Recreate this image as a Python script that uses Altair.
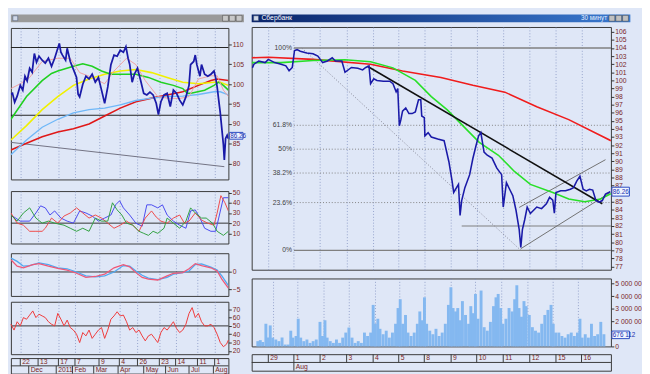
import altair as alt
import pandas as pd

# ======================= DATA =======================
# ---- left window (daily bars), x = bar position ----
left_price = [(0,97.5),(5,97.7),(12,95.5),(20,97.0),(30,99.7),(38,98.5),(45,102.0),(52,100.8),(60,104.0),(68,103.0),
              (75,107.7),(82,105.5),(90,107.0),(100,106.0),(110,105.3),(120,106.5),(130,104.5),(140,106.5),(150,109.0),
              (155,110.2),(160,108.0),(165,107.3),(175,106.0),(180,109.0),(190,105.7),(200,103.7),(210,101.7),(215,97.5),
              (220,96.8),(230,100.0),(240,102.0),(250,101.3),(260,102.5),(270,100.5),(280,101.7),(290,98.5),(300,95.2),
              (310,99.3),(320,104.9),(330,107.3),(340,107.0),(350,108.5),(360,108.0),(368,109.4),(375,106.5),(380,105.0),
              (388,100.5),(395,102.5),(405,104.0),(415,101.0),(425,97.7),(435,97.3),(445,98.0),(455,97.3),(465,95.2),
              (472,92.4),(480,95.6),(490,97.3),(500,97.7),(510,94.4),(520,98.5),(530,97.7),(540,96.0),(550,94.8),
              (560,96.8),(570,99.7),(575,104.9),(585,105.7),(590,107.3),(595,104.9),(605,102.0),(610,104.9),(620,102.5),
              (630,102.0),(640,102.5),(650,103.3),(655,101.7),(660,99.3),(665,96.0),(670,92.8),(675,88.8),(680,84.8),
              (683,81.0),(687,86.4),(692,87.2),(696,86.3)]
left_ma_green = [(0,91.2),(50,96.9),(100,100.9),(130,102.7),(150,103.3),(200,104.5),(230,105.1),(260,104.5),(290,103.3),
                 (320,102.5),(360,102.5),(400,102.5),(440,101.7),(480,100.5),(520,99.7),(550,98.9),(565,97.7),(580,97.8),
                 (620,98.5),(650,99.7),(665,100.5),(680,99.7),(696,98.5)]
left_ma_yellow = [(0,86.0),(50,89.6),(100,93.6),(150,96.9),(200,99.7),(250,101.3),(300,102.5),(350,103.3),(400,103.7),
                  (450,102.9),(500,101.7),(550,100.5),(600,100.1),(650,100.5),(670,100.5),(696,99.7)]
left_ma_lblue = [(0,82.3),(50,86.0),(100,89.2),(150,91.2),(200,92.8),(250,93.6),(300,94.0),(350,94.8),(400,95.9),
                 (450,96.5),(500,96.9),(550,97.0),(600,97.4),(650,98.1),(670,98.1),(696,97.3)]
left_ma_red = [(0,83.5),(50,85.2),(100,86.8),(150,88.0),(200,88.8),(250,90.0),(300,92.0),(350,94.0),(400,95.6),
               (450,96.5),(500,97.3),(550,98.1),(600,99.7),(640,100.9),(660,101.3),(696,100.9)]
left_ma_pink = [(0,98.9),(30,100.1),(60,101.7),(100,105.7),(150,106.5),(190,106.5),(220,102.9),(260,101.7),(300,100.1),
                (330,103.3),(370,106.5),(400,104.9),(430,100.9),(470,96.9),(500,96.5),(540,96.4),(570,96.9),(600,101.3),
                (640,102.1),(660,102.1),(680,98.5),(696,96.9)]
left_levels = [109.2, 92.2]
left_diag = [(0,85.4),(683,79.3)]
last_price = 86.26

osc_blue = [(0,28),(30,22),(60,22),(80,30),(95,37),(110,35),(125,28),(140,32),(160,25),(180,22),(200,20),(220,32),
            (240,30),(260,27),(280,22),(300,25),(320,28),(335,38),(348,42),(360,35),(380,28),(400,20),(420,17),(435,38),
            (450,38),(470,35),(485,38),(500,28),(520,22),(540,18),(560,15),(575,32),(590,33),(605,25),(620,15),(640,12),
            (655,12),(665,25),(680,45),(696,45)]
osc_red = [(0,30),(20,20),(40,18),(60,12),(80,12),(100,12),(110,15),(130,25),(150,20),(170,27),(190,30),(210,35),
           (230,30),(250,25),(270,28),(290,25),(310,20),(330,15),(350,18),(370,22),(390,18),(410,12),(430,25),(450,32),
           (465,26),(480,22),(500,20),(520,25),(540,28),(555,20),(570,22),(590,30),(610,23),(630,20),(650,18),(660,30),
           (672,47),(685,40),(696,32)]
osc_green = [(0,28),(20,22),(40,30),(60,35),(80,25),(100,20),(120,22),(140,20),(170,18),(190,15),(210,12),(230,15),
             (250,12),(270,25),(290,22),(310,22),(325,40),(340,33),(355,28),(370,20),(390,18),(410,12),(425,10),(440,8),
             (455,12),(470,10),(490,15),(500,25),(520,20),(540,15),(560,22),(575,35),(590,30),(610,25),(625,25),(645,20),
             (660,12),(680,8),(696,12)]
macd_blue = [(0,4.0),(20,3.05),(40,1.67),(60,1.85),(90,2.6),(120,2.13),(150,1.2),(180,0.93),(210,0.0),(240,-1.1),
             (270,-1.39),(300,-1.1),(330,0.0),(360,1.85),(380,1.67),(400,0.28),(420,-0.93),(440,-1.76),(470,-2.22),
             (500,-1.57),(520,-0.65),(550,-0.19),(570,0.28),(590,2.13),(610,2.31),(640,1.39),(660,0.56),(675,-1.1),(696,-3.9)]
macd_red = [(0,3.52),(20,1.67),(40,1.2),(70,2.13),(90,2.41),(120,1.67),(150,1.02),(180,0.56),(210,-0.37),(240,-1.57),
            (270,-1.3),(300,-0.65),(330,1.2),(360,2.13),(380,1.48),(400,-0.19),(420,-1.57),(440,-2.04),(470,-2.31),
            (500,-1.11),(520,-0.37),(550,-0.19),(570,0.93),(590,2.41),(610,1.85),(640,1.2),(660,0.28),(675,-2.04),(696,-4.63)]
rsi_x = list(range(0, 700, 10)) + [696]
rsi_vals = [52,45,55,50,60,58,63,68,60,64,62,60,55,52,50,65,58,50,57,48,45,40,30,42,38,45,35,40,45,48,
            35,45,58,62,67,62,63,55,45,48,42,45,38,32,38,40,35,30,42,48,45,50,55,47,42,45,52,65,72,60,
            65,55,50,50,52,48,40,30,25,28,33]

left_day_ticks = [30,87,152,205,282,347,405,475,527,597,652]
left_day_labels = ["22","13","17","7","9","4","26","23","14","11","1"]
left_mon_ticks = [57,145,197,265,343,425,495,570,648]
left_mon_labels = ["Dec","2011","Feb","Mar","Apr","May","Jun","Jul","Aug"]

# ---- right window (30-minute bars), x = bar position ----
right_price = [(10,101.55),(15,102.0),(30,102.4),(50,102.2),(60,102.6),(80,102.2),(100,102.0),(115,101.8),(125,101.2),
               (135,101.6),(142,103.7),(150,103.8),(160,103.6),(180,103.4),(200,103.3),(215,103.0),(230,102.2),
               (245,102.4),(260,102.8),(270,102.4),(290,102.4),(300,101.0),(320,101.6),(340,101.5),(355,101.3),
               (365,101.6),(375,101.8),(380,99.6),(390,100.2),(400,100.0),(420,99.9),(440,99.9),(450,99.6),(460,98.6),
               (465,99.0),(470,94.4),(475,95.2),(480,96.2),(490,96.6),(500,95.9),(510,95.9),(520,96.1),(530,97.6),
               (537,97.6),(540,95.6),(548,95.4),(550,93.15),(560,93.55),(570,93.0),(590,92.75),(610,92.55),(625,89.95),
               (635,87.55),(640,86.15),(655,87.15),(660,83.3),(665,85.15),(675,86.75),(690,88.35),(700,90.35),
               (710,91.95),(718,93.15),(725,93.55),(735,91.15),(745,90.75),(760,90.4),(775,89.15),(790,88.35),
               (795,84.35),(805,87.35),(815,86.55),(825,85.75),(835,83.95),(845,81.55),(850,79.35),(855,81.55),
               (862,82.75),(870,84.35),(880,83.55),(890,83.95),(900,84.35),(915,84.15),(930,84.75),(940,85.55),
               (950,85.2),(955,83.6),(960,86.15),(975,86.35),(990,86.35),(1005,86.55),(1015,86.75),(1025,87.55),
               (1035,88.15),(1045,86.55),(1055,86.35),(1065,86.55),(1075,86.45),(1085,85.15),(1095,84.95),
               (1105,85.15),(1115,85.95),(1125,86.15),(1130,86.26)]
right_ma_red = [(8,102.8),(60,102.85),(200,102.6),(380,102.0),(480,101.15),(600,100.35),(700,99.4),(800,98.55),
                (900,96.75),(1000,95.15),(1132,92.55)]
right_ma_green = [(8,102.2),(100,102.2),(200,102.45),(300,102.55),(380,102.3),(450,101.55),(520,100.0),(570,98.0),
                  (620,96.35),(680,93.95),(720,92.35),(780,90.75),(830,88.75),(880,87.15),(950,86.15),(1000,85.35),
                  (1050,85.0),(1100,85.35),(1132,86.0)]
fib_levels = [104.0, 94.45, 91.5, 88.55, 84.9, 79.0]
fib_labels = ["100%", "61.8%", "50%", "38.2%", "23.6%", "0%"]
trend_line = [(370,101.75),(1105,84.76)]
channel_low = [(850,79.2),(1130,86.15)]
channel_high = [(845,84.3),(1115,90.2)]
fib_diag = [(165,104.0),(850,79.0)]
support_line = [(665,82.0),(1132,82.0)]

vol_x = [12,20,28,38,45,52,60,70,80,90,100,110,118,125,135,142,150,160,170,180,190,200,212,220,228,235,245,255,265,
         275,285,295,305,315,325,335,345,355,365,375,383,390,398,405,415,425,435,445,455,463,470,478,487,495,505,515,
         525,533,540,548,555,565,575,585,595,605,615,625,633,640,648,655,662,670,680,690,697,705,712,720,730,740,750,
         760,770,778,785,793,800,810,820,830,838,845,852,860,868,875,885,895,905,915,925,935,945,955,962,970,980,990,
         1000,1010,1020,1030,1040,1048,1055,1065,1075,1085,1095,1105,1115,1125]
vol_m = [0.42,0.5,0.35,1.8,0.7,1.67,0.7,0.55,0.42,0.7,0.15,0.15,1.25,0.7,0.83,2.2,0.7,0.42,0.55,0.28,0.42,0.55,1.95,0.83,
         2.08,0.7,0.42,0.28,0.55,0.28,0.7,1.1,1.5,0.7,0.28,0.42,0.28,1.1,0.83,1.1,3.3,1.8,2.2,1.4,0.97,1.25,0.7,1.1,1.8,
         3.05,3.75,1.8,2.5,1.1,0.83,1.1,1.8,2.78,2.08,3.9,1.8,1.25,0.97,1.4,0.83,1.1,1.8,3.3,4.7,3.05,2.78,3.05,2.08,3.6,
         2.5,1.8,3.2,2.64,4.17,2.2,4.44,1.53,1.25,1.95,3.2,3.9,4.17,3.05,1.8,2.2,3.05,2.78,3.75,4.86,3.05,2.36,3.6,3.2,
         2.5,1.53,1.25,1.1,1.8,2.5,2.9,3.3,1.8,1.1,1.1,0.83,0.7,0.97,1.1,0.83,1.1,2.2,0.7,0.97,0.7,1.8,0.83,0.97,1.95,0.97]
last_volume = "676 112"

right_day_ticks = [60,140,222,305,388,468,548,632,712,795,878,960,1040]
right_day_labels = ["29","1","2","3","4","5","8","9","10","11","12","15","16"]
right_mon_ticks = [140]
right_mon_labels = ["Aug"]

# ======================= STYLE =======================
FONT = "Liberation Sans"
LABEL = "#7a2424"
BG = "#dfe7f7"
FRAME = "#383838"
LW, LAX = 224, 16
RW, RAX = 370, 20


def pairs(p):
    return pd.DataFrame({"x": [a for a, _ in p], "y": [b for _, b in p]})


def yax(values, ext, expr=None):
    kw = dict(orient="right", values=values, title=None, labelFontSize=7, labelFont=FONT, labelColor=LABEL,
              tickSize=3, tickColor="#303030", domain=False, grid=False, labelPadding=1,
              minExtent=ext, maxExtent=ext, labelOverlap=False, labelBaseline="middle")
    if expr:
        kw["labelExpr"] = expr
    return alt.Axis(**kw)


def xax(values):
    return alt.Axis(values=values, labels=False, ticks=False, domain=False, title=None, grid=True,
                    gridColor="#8090c0", gridDash=[1, 2], gridOpacity=0.8, minExtent=0, maxExtent=0)


LXS = alt.Scale(domain=[0, 696], nice=False, zero=False)
RXS = alt.Scale(domain=[8, 1132], nice=False, zero=False)


def LX():
    return alt.X("x:Q", scale=LXS, axis=xax(left_day_ticks))


def RX():
    return alt.X("x:Q", scale=RXS, axis=xax(right_day_ticks))


def line(data, color, w, X, Y, dash=None):
    kw = dict(color=color, strokeWidth=w, clip=True)
    if dash:
        kw["strokeDash"] = dash
    return alt.Chart(pairs(data)).mark_line(**kw).encode(x=X, y=Y)


def hrule(vals, Y, color="#202020", w=1):
    return alt.Chart(pd.DataFrame({"y": vals})).mark_rule(color=color, strokeWidth=w).encode(y=Y)


def seg(p, X, Y, color, w=1, dash=None):
    df = pd.DataFrame({"x": [p[0][0]], "y": [p[0][1]], "x2": [p[1][0]], "y2": [p[1][1]]})
    kw = dict(color=color, strokeWidth=w)
    if dash:
        kw["strokeDash"] = dash
    return alt.Chart(df).mark_rule(**kw).encode(x=X, y=Y, x2="x2:Q", y2="y2:Q")


def tag(Y, yscale, axis, hi, lo, txt, mid, x0, x1):
    df = pd.DataFrame({"y": [hi], "y2": [lo], "m": [mid], "t": [txt]})
    r = alt.Chart(df).mark_rect(fill="#eef4ff", stroke="#2848c0", strokeWidth=1).encode(
        x=alt.value(x0), x2=alt.value(x1), y=Y, y2="y2:Q")
    t = alt.Chart(df).mark_text(fontSize=6.5, font=FONT, color="#2030b0", align="left", baseline="middle").encode(
        x=alt.value(x0 + 1), y=alt.Y("m:Q", scale=yscale, axis=axis), text="t:N")
    return [r, t]


# ======================= LEFT WINDOW =======================
ly_s = alt.Scale(domain=[76.1, 114.1], nice=False, zero=False)
ly_ax = yax([80, 85, 90, 95, 100, 105, 110], LAX)
LY = alt.Y("y:Q", scale=ly_s, axis=ly_ax)
left_main = alt.layer(
    hrule(left_levels, LY),
    seg(left_diag, LX(), LY, "#707080", 1),
    line(left_ma_red, "#e01818", 1.6, LX(), LY),
    line(left_ma_lblue, "#70b8f8", 1.4, LX(), LY),
    line(left_ma_yellow, "#f0f000", 1.6, LX(), LY),
    line(left_ma_green, "#20d020", 1.6, LX(), LY),
    line(left_ma_pink, "#f0a0a0", 1, LX(), LY),
    line(left_price, "#1a1aa8", 1.8, LX(), LY),
    *tag(LY, ly_s, ly_ax, 87.9, 86.2, "86.26", 87.05, LW + 1, LW + LAX - 1),
).properties(width=LW, height=156)

oy_s = alt.Scale(domain=[0, 51.5], nice=False, zero=False)
OY = alt.Y("y:Q", scale=oy_s, axis=yax([10, 20, 30, 40, 50], LAX))
osc = alt.layer(
    hrule([20], OY, "#303030"),
    line(osc_blue, "#4848f0", 1, LX(), OY),
    line(osc_red, "#f04848", 1, LX(), OY),
    line(osc_green, "#30a040", 1, LX(), OY),
).properties(width=LW, height=54)

my_s = alt.Scale(domain=[-6.9, 5.4], nice=False, zero=False)
MY = alt.Y("y:Q", scale=my_s, axis=yax([0, -5], LAX))
macd = alt.layer(
    hrule([0], MY, "#303030"),
    line(macd_blue, "#50a8f0", 1.3, LX(), MY),
    line(macd_red, "#f05878", 1.3, LX(), MY),
).properties(width=LW, height=44)

ry_s = alt.Scale(domain=[16, 79], nice=False, zero=False)
RY = alt.Y("y:Q", scale=ry_s, axis=yax([20, 30, 40, 50, 60, 70], LAX))
rsi = alt.layer(
    hrule([50], RY, "#303030"),
    alt.Chart(pd.DataFrame({"x": rsi_x, "y": rsi_vals})).mark_line(color="#f03838", strokeWidth=1).encode(x=LX(), y=RY),
).properties(width=LW, height=54)


def date_strip(xscale, day_t, day_l, mon_t, mon_l, width, height):
    ys = alt.Scale(domain=[0, 2], nice=False, zero=False)
    X = alt.X("x:Q", scale=xscale, axis=None)
    Y = alt.Y("y:Q", scale=ys, axis=None)
    d1 = pd.DataFrame({"x": day_t, "y": [2] * len(day_t), "y2": [1] * len(day_t), "m": [1.5] * len(day_t), "t": day_l})
    d2 = pd.DataFrame({"x": mon_t, "y": [1] * len(mon_t), "y2": [0] * len(mon_t), "m": [0.5] * len(mon_t), "t": mon_l})
    layers = [alt.Chart(pd.DataFrame({"y": [1]})).mark_rule(color=FRAME).encode(y=Y)]
    for d in (d1, d2):
        layers.append(alt.Chart(d).mark_rule(color=FRAME).encode(x=X, y=Y, y2="y2:Q"))
        layers.append(alt.Chart(d).mark_text(fontSize=7, font=FONT, color=LABEL, align="left", baseline="middle",
                                             dx=2).encode(x=X, y=alt.Y("m:Q", scale=ys, axis=None), text="t:N"))
    return alt.layer(*layers).properties(width=width, height=height)


left_dates = date_strip(LXS, left_day_ticks, left_day_labels, left_mon_ticks, left_mon_labels, LW, 16)


def title_bar(width, fill, title, right_text, buttons):
    base = pd.DataFrame({"t": [title]})
    layers = [alt.Chart(base).mark_rect(fill=fill).encode(
        x=alt.value(0), x2=alt.value(width), y=alt.value(0), y2=alt.value(8))]
    layers.append(alt.Chart(base).mark_rect(fill="#d0d8e8", stroke="#405070", strokeWidth=0.5).encode(
        x=alt.value(2), x2=alt.value(7), y=alt.value(1.5), y2=alt.value(6.5)))
    if title:
        layers.append(alt.Chart(base).mark_text(fontSize=7, font=FONT, color="white", align="left",
                                                baseline="middle").encode(x=alt.value(10), y=alt.value(4), text="t:N"))
    if right_text:
        rt = pd.DataFrame({"t": [right_text]})
        layers.append(alt.Chart(rt).mark_text(fontSize=6.5, font=FONT, color="#e8f0ff", align="right",
                                              baseline="middle").encode(x=alt.value(width - 24), y=alt.value(4), text="t:N"))
    for i in range(3):
        x0 = width - 7 * (3 - i) - 1
        layers.append(alt.Chart(base).mark_rect(fill=buttons, stroke="#404040", strokeWidth=0.5).encode(
            x=alt.value(x0), x2=alt.value(x0 + 6), y=alt.value(1), y2=alt.value(7)))
    return alt.layer(*layers).properties(width=width, height=8,
                                         view=alt.ViewBackground(stroke="transparent"))


left_title = title_bar(LW + LAX, "#9a9a9a", "", "", "#c8c8c8")

left_col = alt.vconcat(
    alt.vconcat(
        alt.vconcat(left_title, left_main, spacing=4),
        alt.vconcat(osc, macd, spacing=8),
        spacing=8),
    alt.vconcat(rsi, left_dates, spacing=2),
    spacing=4)

# ======================= RIGHT WINDOW =======================
py_s = alt.Scale(domain=[76.6, 106.6], nice=False, zero=False)
py_ax = yax([v for v in range(77, 107) if v != 86], RAX)
PY = alt.Y("y:Q", scale=py_s, axis=py_ax)

fib_df = pd.DataFrame({"x": [140] * 6, "x2": [1132] * 6, "y": fib_levels, "t": fib_labels})
fib_solid = alt.Chart(fib_df[fib_df["t"].isin(["100%", "0%"])]).mark_rule(color="#808080", strokeWidth=1.4).encode(
    x=RX(), x2="x2:Q", y=PY)
fib_dot = alt.Chart(fib_df[~fib_df["t"].isin(["100%", "0%"])]).mark_rule(
    color="#808080", strokeWidth=1, strokeDash=[1, 2]).encode(x=RX(), x2="x2:Q", y=PY)
fib_txt = alt.Chart(fib_df).mark_text(fontSize=7, font=FONT, color="#404040", align="right", baseline="middle",
                                      dx=-2).encode(x=RX(), y=PY, text="t:N")

right_main = alt.layer(
    fib_solid, fib_dot, fib_txt,
    seg(support_line, RX(), PY, "#808080", 1.2),
    seg(fib_diag, RX(), PY, "#808090", 1, [1, 2]),
    seg(channel_low, RX(), PY, "#707070", 1),
    seg(channel_high, RX(), PY, "#707070", 1),
    line(right_ma_red, "#f01c1c", 1.6, RX(), PY),
    line(right_ma_green, "#28e028", 1.6, RX(), PY),
    seg(trend_line, RX(), PY, "#101010", 1.6),
    line(right_price, "#1a1aa8", 1.6, RX(), PY),
    *tag(PY, py_s, py_ax, 86.8, 85.7, "86.26", last_price, RW + 1, RW + RAX - 1),
).properties(width=RW, height=250)

vy_s = alt.Scale(domain=[0, 5.4], nice=False, zero=True)
vy_ax = yax([0, 2, 3, 4, 5], RAX, "datum.value == 0 ? '0' : datum.value + ' 000 00'")
VY = alt.Y("y:Q", scale=vy_s, axis=vy_ax)
volume = alt.layer(
    alt.Chart(pd.DataFrame({"x": vol_x, "y": vol_m})).mark_bar(color="#84b8f0", width=3).encode(x=RX(), y=VY),
    *tag(VY, vy_s, vy_ax, 1.22, 0.62, last_volume, 0.92, RW + 1, RW + RAX - 1),
).properties(width=RW, height=70)

right_dates = date_strip(RXS, right_day_ticks, right_day_labels, right_mon_ticks, right_mon_labels, RW, 17)

blue_grad = alt.LinearGradient(gradient="linear", x1=0, x2=1, y1=0, y2=0,
                               stops=[alt.GradientStop(color="#0a246a", offset=0),
                                      alt.GradientStop(color="#3a7ad0", offset=1)])
right_title = title_bar(RW + RAX, blue_grad, "Сбербанк", "30 минут", "#c0c0c0")

right_col = alt.vconcat(
    alt.vconcat(right_title, right_main, spacing=3),
    alt.vconcat(volume, right_dates, spacing=3),
    spacing=7)

chart = alt.hconcat(left_col, right_col, spacing=4).properties(
    padding=0, background=BG
).configure_view(fill=BG, stroke=FRAME, strokeWidth=1)

chart.save("out.html", embed_options={"renderer": "svg", "actions": False})
